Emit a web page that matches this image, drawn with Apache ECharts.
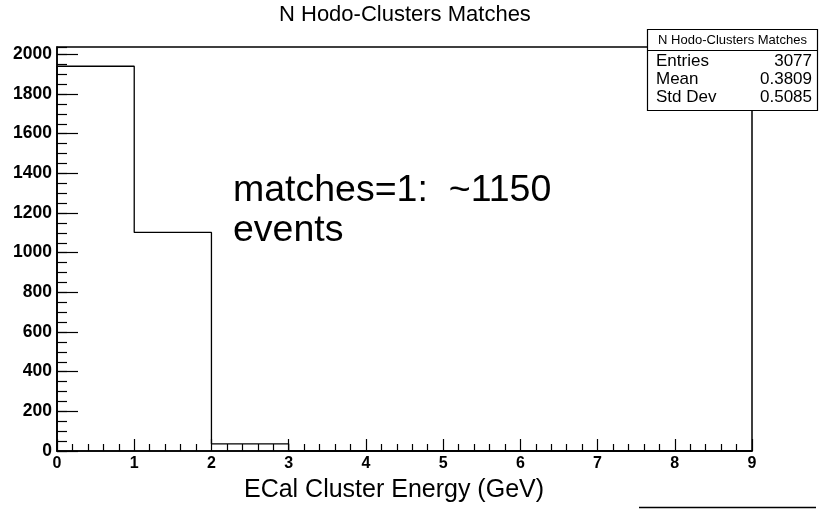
<!DOCTYPE html>
<html><head><meta charset="utf-8">
<script src="https://cdn.jsdelivr.net/npm/echarts@6/dist/echarts.min.js"></script>
<style>html,body{margin:0;padding:0;background:#fff}#c{width:819px;height:509px}</style>
</head><body><div id="c"></div>
<script>
// ---- data ----
const binEdges = [0, 1, 2, 3, 4, 5, 6, 7, 8, 9];
const binCounts = [1940, 1102, 36, 0, 0, 0, 0, 0, 0];
const yAxisMax = 2037;
const statsLabels = ['Entries', 'Mean', 'Std Dev'];
const statsValues = ['3077', '0.3809', '0.5085'];
const statsHeader = 'N Hodo-Clusters Matches';
const titleText = 'N Hodo-Clusters Matches';
const xTitle = 'ECal Cluster Energy (GeV)';
const noteLines = ['matches=1:  ~1150', 'events'];

// ---- build step outline from bins ----
const stepPts = [[binEdges[0], 0]];
for (let i = 0; i < binCounts.length; i++) {
  stepPts.push([binEdges[i], binCounts[i]]);
  stepPts.push([binEdges[i + 1], binCounts[i]]);
}
stepPts.push([binEdges[binEdges.length - 1], 0]);

const FONT = '"Liberation Sans", Arial, Helvetica, sans-serif';
const chart = echarts.init(document.getElementById('c'), null, {renderer: 'canvas'});

const statsGraphics = [
  {type: 'rect', z: 100, shape: {x: 647.5, y: 29.5, width: 170, height: 81},
   style: {fill: '#fff', stroke: '#000', lineWidth: 1.2}},
  {type: 'line', z: 101, shape: {x1: 647.5, y1: 50.5, x2: 817.5, y2: 50.5},
   style: {stroke: '#000', lineWidth: 1.2}},
  {type: 'text', z: 102, x: 732.5, y: 40.5,
   style: {text: statsHeader, font: '13px ' + FONT, fill: '#000', align: 'center', verticalAlign: 'middle'}}
];
const rowY = [61.5, 79.5, 97.5];
statsLabels.forEach((lab, i) => {
  statsGraphics.push({type: 'text', z: 102, x: 656, y: rowY[i],
    style: {text: lab, font: '17px ' + FONT, fill: '#000', align: 'left', verticalAlign: 'middle'}});
  statsGraphics.push({type: 'text', z: 102, x: 812, y: rowY[i],
    style: {text: statsValues[i], font: '17px ' + FONT, fill: '#000', align: 'right', verticalAlign: 'middle'}});
});

const option = {
  animation: false,
  backgroundColor: '#fff',
  title: {
    text: titleText, left: 274, top: -1,
    textStyle: {fontFamily: FONT, fontSize: 22, fontWeight: 'normal', color: '#000'}
  },
  grid: {left: 57, top: 47, width: 695, height: 404, show: true, borderColor: '#000', borderWidth: 1.5, backgroundColor: 'transparent'},
  xAxis: [{
    type: 'value', min: 0, max: 9, interval: 1, position: 'bottom',
    axisLine: {show: true, lineStyle: {color: '#000', width: 1.5}},
    axisTick: {show: true, inside: true, length: 12, lineStyle: {color: '#000', width: 1.2}},
    minorTick: {show: true, splitNumber: 5, length: 7, lineStyle: {color: '#000', width: 1.2}},
    splitLine: {show: false},
    axisLabel: {margin: 5, color: '#000', fontFamily: FONT, fontWeight: 'bold', fontSize: 16,
      formatter: v => String(v)},
    name: xTitle, nameLocation: 'middle', nameGap: 27,
    nameTextStyle: {fontFamily: FONT, fontSize: 25, color: '#000', padding: [0, 21, 0, 0]}
  }],
  yAxis: [{
    type: 'value', min: 0, max: yAxisMax, interval: 200, position: 'left',
    axisLine: {show: true, lineStyle: {color: '#000', width: 1.5}},
    axisTick: {show: true, inside: true, length: 21, lineStyle: {color: '#000', width: 1.2}},
    splitLine: {show: false},
    axisLabel: {margin: 5, color: '#000', fontFamily: FONT, fontWeight: 'bold', fontSize: 17.5, showMaxLabel: false,
      formatter: v => String(v)}
  }, {
    type: 'value', min: 0, max: yAxisMax, interval: 50, position: 'left', offset: 0,
    axisLine: {show: false},
    axisTick: {show: true, inside: true, length: 10, lineStyle: {color: '#000', width: 1.2}},
    splitLine: {show: false},
    axisLabel: {show: false}
  }],
  series: [{
    type: 'line', xAxisIndex: 0, yAxisIndex: 0, data: stepPts,
    showSymbol: false, symbol: 'none', clip: false,
    lineStyle: {color: '#000', width: 1.3}
  }],
  graphic: [
    {type: 'text', z: 50, x: 233, y: 190.5,
     style: {text: noteLines[0], font: '37.5px ' + FONT, fill: '#000', align: 'left', verticalAlign: 'middle'}},
    {type: 'text', z: 50, x: 233, y: 231,
     style: {text: noteLines[1], font: '37.5px ' + FONT, fill: '#000', align: 'left', verticalAlign: 'middle'}},
    {type: 'line', z: 50, shape: {x1: 639, y1: 507.5, x2: 816, y2: 507.5},
     style: {stroke: '#000', lineWidth: 1.5}}
  ].concat(statsGraphics)
};
chart.setOption(option);
</script>
</body></html>
